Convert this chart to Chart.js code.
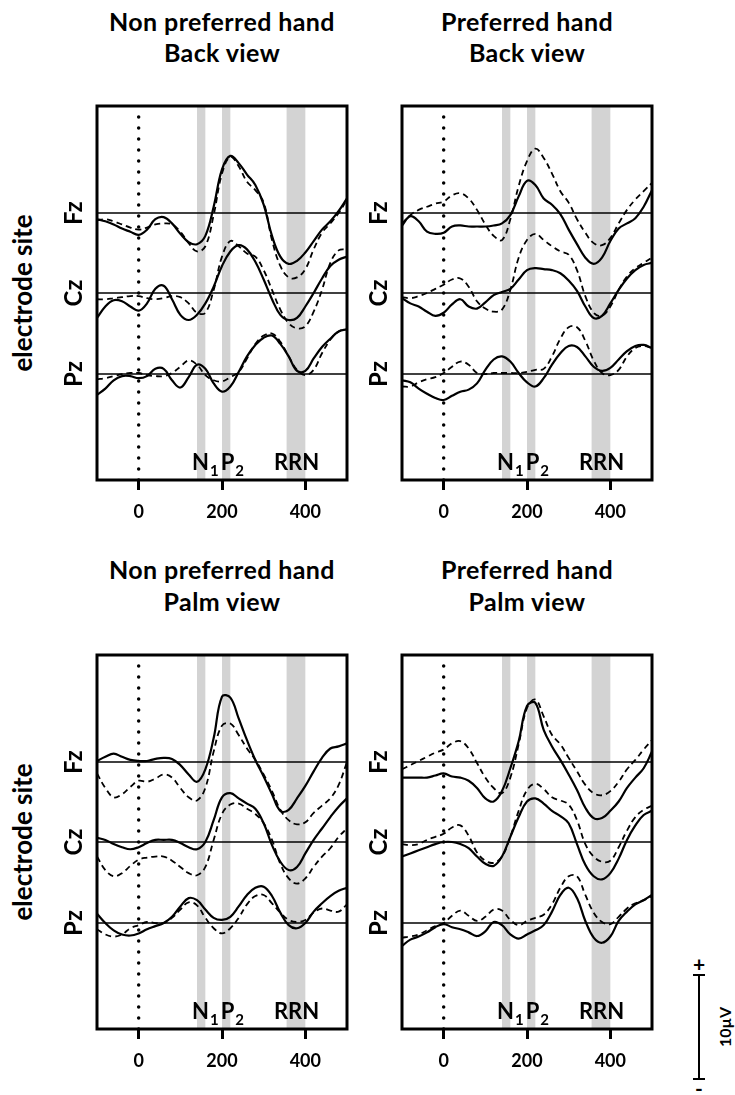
<!DOCTYPE html>
<html>
<head>
<meta charset="utf-8">
<script src="https://cdn.jsdelivr.net/npm/chart.js@4/dist/chart.umd.min.js"></script>
<style>
  body { margin: 0; background: #fff; width: 735px; height: 1095px; position: relative; overflow: hidden;
         font-family: Lato, "Open Sans", sans-serif; font-weight: 700; color: #000; }
  canvas { position: absolute; }
  .title { position: absolute; width: 320px; text-align: center; font-size: 25px; letter-spacing: 0.4px;
           transform: translate(-50%, -50%); white-space: nowrap; }
  .vlab { position: absolute; font-size: 26px; transform: translate(-50%, -50%) rotate(-90deg); white-space: nowrap; }
  .bar { position: absolute; background: #000; }
</style>
</head>
<body>

<div class="title" style="left:222px;top:21px">Non preferred hand</div>
<div class="title" style="left:222px;top:52px">Back view</div>
<div class="title" style="left:527px;top:21px">Preferred hand</div>
<div class="title" style="left:527px;top:52px">Back view</div>
<div class="title" style="left:222px;top:569px">Non preferred hand</div>
<div class="title" style="left:222px;top:601px">Palm view</div>
<div class="title" style="left:527px;top:569px">Preferred hand</div>
<div class="title" style="left:527px;top:601px">Palm view</div>

<div class="vlab" style="left:22px;top:293px">electrode site</div>
<div class="vlab" style="left:22px;top:842px">electrode site</div>

<canvas id="c1" width="295" height="425" style="left:60px;top:100px"></canvas>
<canvas id="c2" width="295" height="425" style="left:365px;top:100px"></canvas>
<canvas id="c3" width="295" height="425" style="left:60px;top:649px"></canvas>
<canvas id="c4" width="295" height="425" style="left:365px;top:649px"></canvas>

<!-- scale bar -->
<div class="bar" style="left:698px;top:975px;width:2px;height:105px"></div>
<div class="bar" style="left:693px;top:974px;width:12px;height:2px"></div>
<div class="bar" style="left:693px;top:1078px;width:12px;height:2px"></div>
<div class="vlab" style="left:699px;top:963px;transform:translate(-50%,-50%);font-size:21px">+</div>
<div class="vlab" style="left:699px;top:1087px;transform:translate(-50%,-50%);font-size:21px">-</div>
<div class="vlab" style="left:724px;top:1027px;font-size:16px">10µV</div>

<script>
// время, мс
const time = [-100, -80, -60, -40, -20, 0, 20, 40, 60, 80, 100, 120, 140, 160, 180, 200,
              220, 240, 260, 280, 300, 320, 340, 360, 380, 400, 420, 440, 460, 480, 500];
const xTicks = [0, 200, 400];
const sites = ['Fz', 'Cz', 'Pz'];
const siteOffset = [15.5, 7.8, 0];          // µV, смещение базовой линии
const bands = [[140, 160], [200, 220], [355, 400]];

// Non preferred hand, back view
const npBackFzSolid = [-0.6,-0.8,-1.1,-1.5,-1.8,-2.1,-1.6,-0.6,-0.4,-1.0,-2.0,-2.8,-3.0,-2.2,0.6,4.2,5.5,4.8,3.7,2.7,0.8,-2.2,-4.2,-4.9,-4.6,-3.8,-2.7,-1.6,-0.8,0.2,1.4];
const npBackFzDash  = [-0.7,-0.6,-0.8,-1.1,-1.4,-1.6,-1.4,-1.1,-1.0,-1.1,-1.8,-2.9,-3.7,-3.2,-0.2,3.8,5.4,4.5,3.0,2.2,1.0,-2.6,-5.1,-6.2,-6.2,-5.4,-3.5,-1.9,-1.0,0,1.3];
const npBackCzSolid = [-2.4,-1.3,-0.7,-0.8,-1.3,-1.7,-1.0,0.4,0.7,-0.6,-2.1,-2.6,-2.1,-1.0,0.6,2.6,4.0,4.6,4.2,3.0,1.3,-0.6,-2.1,-2.6,-2.4,-1.3,0,1.4,2.6,3.2,3.5];
const npBackCzDash  = [-0.6,-0.6,-0.5,-0.4,-0.3,-0.3,-0.5,-0.6,-0.5,-0.3,-0.4,-1.0,-1.9,-1.9,0.3,3.5,5.0,4.5,3.8,3.5,2.2,0.3,-1.6,-2.9,-3.4,-3.2,-1.8,0.3,2.9,4.1,4.2];
const npBackPzSolid = [-2.0,-1.4,-0.6,-0.2,-0.2,-0.4,-0.2,0.5,0.5,-0.6,-1.3,-0.3,0.9,0.5,-0.9,-1.7,-1.2,0.2,1.7,2.8,3.5,3.7,2.9,1.7,0.3,0.3,1.5,2.6,3.4,4.1,4.3];
const npBackPzDash  = [-0.5,-0.4,-0.2,0,0.1,0.1,-0.1,-0.2,-0.2,0.1,0.7,1.3,0.9,-0.1,-0.6,-0.7,-0.3,0.2,1.5,2.9,3.7,3.9,3.1,1.7,0.4,-0.1,0.4,2.0,3.3,4.1,4.3];

// Preferred hand, back view
const pBackFzSolid = [-1.2,-0.3,-0.8,-1.8,-2.0,-1.9,-1.3,-1.2,-1.3,-1.3,-1.3,-1.2,-1.0,-0.2,1.6,3.1,2.7,1.4,0.8,-0.1,-1.6,-3.0,-4.3,-4.9,-4.3,-2.7,-1.5,-1.0,-0.5,0.6,2.2];
const pBackFzDash  = [-1.0,-0.2,0.3,0.6,0.9,1.1,1.7,1.9,1.4,0.3,-1.1,-2.2,-2.6,-0.6,2.6,5.0,6.2,5.3,3.8,2.1,1.0,-0.6,-1.9,-2.9,-3.1,-2.4,-1.0,0.3,1.3,2.1,2.9];
const pBackCzSolid = [-0.5,-1.0,-1.3,-1.8,-2.2,-1.9,-1.1,-0.6,-1.3,-1.5,-0.9,-0.2,0.1,0.4,1.3,2.2,2.4,2.3,2.2,1.9,1.2,0.2,-1.3,-2.4,-2.2,-1.0,0.3,1.4,2.2,2.7,2.9];
const pBackCzDash  = [-0.4,-0.5,-0.3,0,0.4,0.8,1.3,1.4,0.6,-0.8,-1.5,-1.8,-1.6,0.3,3.4,5.1,5.7,5.1,4.5,4.0,3.7,2.2,-0.3,-1.9,-2.2,-1.3,0.3,1.6,2.4,2.9,3.4];
const pBackPzSolid = [-0.6,-0.8,-1.4,-1.9,-2.3,-2.5,-2.1,-1.7,-1.5,-0.9,0.4,1.4,1.7,1.2,0.1,-0.8,-1.2,-0.4,0.9,2.0,2.7,2.6,1.7,0.7,0.3,0.6,1.4,2.2,2.7,2.8,2.5];
const pBackPzDash  = [-1.2,-1.2,-0.8,-0.5,-0.3,0.1,0.7,1.2,0.9,0.1,0,0.1,0.1,0.1,0.1,0.2,0.4,0.5,1.7,3.4,4.5,4.5,3.2,1.3,0.1,-0.1,0.4,1.7,2.5,2.7,2.5];

// Non preferred hand, palm view
const npPalmFzSolid = [0.1,0.5,0.8,0.5,0.2,0.1,0.1,0.3,0.4,0.3,-0.3,-1.2,-1.9,-0.7,2.3,6.3,6.2,4.2,2.1,0.2,-1.4,-3.1,-4.7,-4.6,-3.5,-2.3,-0.9,0.4,1.3,1.5,1.8];
const npPalmFzDash  = [-1.1,-2.5,-3.4,-3.1,-2.4,-1.8,-1.9,-1.6,-1.2,-1.5,-2.5,-3.4,-3.7,-2.5,1.0,3.5,3.7,2.6,1.3,0.2,-1.2,-2.8,-4.6,-5.6,-6.0,-5.8,-4.9,-4.2,-3.5,-2.2,0];
const npPalmCzSolid = [0.4,0.2,-0.2,-0.5,-0.7,-0.5,-0.1,0.2,0.2,0.2,-0.1,-0.5,-0.7,0,2.1,4.3,4.7,4.2,3.7,3.2,1.8,-0.3,-1.9,-2.7,-2.4,-1.1,0.2,1.3,2.4,3.4,4.2];
const npPalmCzDash  = [-1.4,-2.7,-3.3,-3.0,-2.3,-1.7,-1.5,-1.4,-1.4,-1.8,-2.4,-3.0,-3.2,-2.4,0.2,2.7,3.6,3.7,3.2,2.7,1.8,0.2,-2.1,-3.5,-4.0,-3.5,-2.4,-1.4,-0.6,0.5,1.3];
const npPalmPzSolid = [0.9,0,-0.7,-1.1,-1.2,-1.0,-0.6,-0.3,0,0.6,1.6,2.4,2.2,1.3,0.5,0.3,0.6,1.6,2.7,3.4,3.5,2.6,1.0,-0.2,-0.5,0,1.1,1.9,2.6,3.1,3.4];
const npPalmPzDash  = [-0.6,-1.1,-1.3,-1.1,-0.5,-0.2,0.1,0,0,0.5,1.3,2.0,1.7,0.5,-0.5,-1.0,-0.5,0.5,1.8,2.6,2.7,1.9,1.0,0.3,0.1,0.3,1.0,1.4,1.2,1.1,1.8];

// Preferred hand, palm view
const pPalmFzSolid = [-1.5,-1.5,-1.5,-1.5,-1.3,-1.1,-1.4,-1.5,-1.8,-2.5,-3.5,-3.8,-2.8,-0.6,2.0,5.4,5.7,3.1,1.5,0.2,-1.2,-2.7,-4.4,-5.4,-5.4,-4.7,-3.8,-2.5,-1.5,-0.6,1.0];
const pPalmFzDash  = [-0.7,-0.3,0.1,0.5,0.9,1.2,1.8,2.0,1.3,-0.1,-1.5,-2.5,-3.0,-1.5,1.7,5.2,6.0,4.4,2.6,1.7,0.4,-0.9,-2.2,-3.0,-3.2,-2.8,-1.9,-0.7,0.2,1.2,2.1];
const pPalmCzSolid = [-1.4,-1.1,-0.8,-0.5,-0.2,0,0,-0.2,-0.6,-1.4,-2.1,-2.3,-1.4,0.5,2.4,3.9,4.2,3.7,3.0,2.5,1.8,-0.2,-2.2,-3.3,-3.6,-3.0,-1.6,0.2,1.6,2.6,3.0];
const pPalmCzDash  = [-0.2,-0.3,-0.2,0.2,0.5,0.8,1.4,1.6,0.6,-1.0,-1.8,-2.0,-1.4,0.5,3.0,5.0,5.6,5.1,4.3,4.0,3.6,2.1,-0.2,-1.4,-1.9,-1.8,-0.5,1.1,2.4,3.1,3.5];
const pPalmPzSolid = [-2.2,-1.6,-1.3,-0.9,-0.4,-0.1,-0.4,-0.6,-0.9,-1.25,-0.8,0.1,-0.2,-1.1,-1.5,-1.1,-0.7,-0.2,1.1,2.7,3.4,2.4,0.2,-1.4,-1.9,-1.3,0.2,1.1,1.8,2.2,2.7];
const pPalmPzDash  = [-1.4,-1.3,-1.1,-0.7,-0.3,0,0.7,1.2,0.7,0.2,0.6,1.3,1.2,0.3,-0.2,0.2,0.5,0.8,1.8,3.4,4.5,4.5,2.7,1.0,0.1,-0.1,0.6,1.4,1.9,2.2,2.6];

const panels = [
  { id: 'c1', solid: [npBackFzSolid, npBackCzSolid, npBackPzSolid], dash: [npBackFzDash, npBackCzDash, npBackPzDash] },
  { id: 'c2', solid: [pBackFzSolid, pBackCzSolid, pBackPzSolid],    dash: [pBackFzDash, pBackCzDash, pBackPzDash] },
  { id: 'c3', solid: [npPalmFzSolid, npPalmCzSolid, npPalmPzSolid], dash: [npPalmFzDash, npPalmCzDash, npPalmPzDash] },
  { id: 'c4', solid: [pPalmFzSolid, pPalmCzSolid, pPalmPzSolid],    dash: [pPalmFzDash, pPalmCzDash, pPalmPzDash] }
];

const Y_MIN = -10.2, Y_MAX = 25.8;
const FONT = 'Lato, "Open Sans", sans-serif';

// серые полосы, рамка и подписи
const decor = {
  id: 'decor',
  beforeDatasetsDraw(chart) {
    const { ctx, chartArea: a, scales: { x } } = chart;
    ctx.save();
    ctx.fillStyle = '#d3d3d3';
    bands.forEach(b => {
      const x0 = x.getPixelForValue(b[0]);
      const x1 = x.getPixelForValue(b[1]);
      ctx.fillRect(x0, a.top, x1 - x0, a.bottom - a.top);
    });
    ctx.restore();
  },
  afterDraw(chart) {
    const { ctx, chartArea: a, scales: { x, y } } = chart;
    ctx.save();
    ctx.strokeStyle = '#000';
    ctx.lineWidth = 3;
    ctx.strokeRect(a.left, a.top, a.right - a.left, a.bottom - a.top);

    ctx.fillStyle = '#000';
    // Fz / Cz / Pz
    ctx.font = 'bold 24px ' + FONT;
    ctx.textAlign = 'center';
    ctx.textBaseline = 'middle';
    sites.forEach((s, i) => {
      ctx.save();
      ctx.translate(a.left - 23, y.getPixelForValue(siteOffset[i]));
      ctx.rotate(-Math.PI / 2);
      ctx.fillText(s, 0, 0);
      ctx.restore();
    });

    // N1 P2 RRN
    const base = a.bottom - 10;
    ctx.textAlign = 'left';
    ctx.textBaseline = 'alphabetic';
    [['N', '1', 128], ['P', '2', 197]].forEach(([big, sub, t]) => {
      const px = x.getPixelForValue(t);
      ctx.font = 'bold 22px ' + FONT;
      ctx.fillText(big, px, base);
      const w = ctx.measureText(big).width;
      ctx.font = 'bold 15px ' + FONT;
      ctx.fillText(sub, px + w + 1, base + 6);
    });
    ctx.font = 'bold 22px ' + FONT;
    ctx.textAlign = 'center';
    ctx.fillText('RRN', x.getPixelForValue(379), base);
    ctx.restore();
  }
};

function buildDatasets(p) {
  const ds = [];
  siteOffset.forEach(off => {
    ds.push({ data: [{ x: -100, y: off }, { x: 500, y: off }], borderColor: '#000', borderWidth: 1.5, pointRadius: 0 });
  });
  ds.push({
    data: [{ x: 0, y: Y_MIN }, { x: 0, y: Y_MAX }],
    borderColor: '#000', borderWidth: 3.5, borderDash: [0, 11], borderCapStyle: 'round', pointRadius: 0
  });
  siteOffset.forEach((off, i) => {
    ds.push({
      data: time.map((t, k) => ({ x: t, y: p.dash[i][k] + off })),
      borderColor: '#000', borderWidth: 1.8, borderDash: [6, 4], pointRadius: 0, tension: 0.4
    });
    ds.push({
      data: time.map((t, k) => ({ x: t, y: p.solid[i][k] + off })),
      borderColor: '#000', borderWidth: 2.2, pointRadius: 0, tension: 0.4
    });
  });
  return ds;
}

panels.forEach(p => {
  new Chart(document.getElementById(p.id), {
    type: 'line',
    data: { datasets: buildDatasets(p) },
    plugins: [decor],
    options: {
      responsive: false,
      animation: false,
      devicePixelRatio: 1,
      layout: { padding: { left: 37, right: 8, top: 6, bottom: 0 } },
      plugins: { legend: { display: false }, tooltip: { enabled: false } },
      scales: {
        x: {
          type: 'linear', min: -100, max: 500,
          afterBuildTicks: s => { s.ticks = xTicks.map(v => ({ value: v })); },
          afterFit: s => { s.height = 45; },
          grid: { drawOnChartArea: false, drawTicks: true, tickLength: 10, tickWidth: 3, tickColor: '#000' },
          border: { display: false },
          ticks: { color: '#000', font: { family: FONT, weight: 'bold', size: 18 }, padding: 11, maxRotation: 0, autoSkip: false }
        },
        y: { display: false, min: Y_MIN, max: Y_MAX }
      }
    }
  });
});
</script>
</body>
</html>
